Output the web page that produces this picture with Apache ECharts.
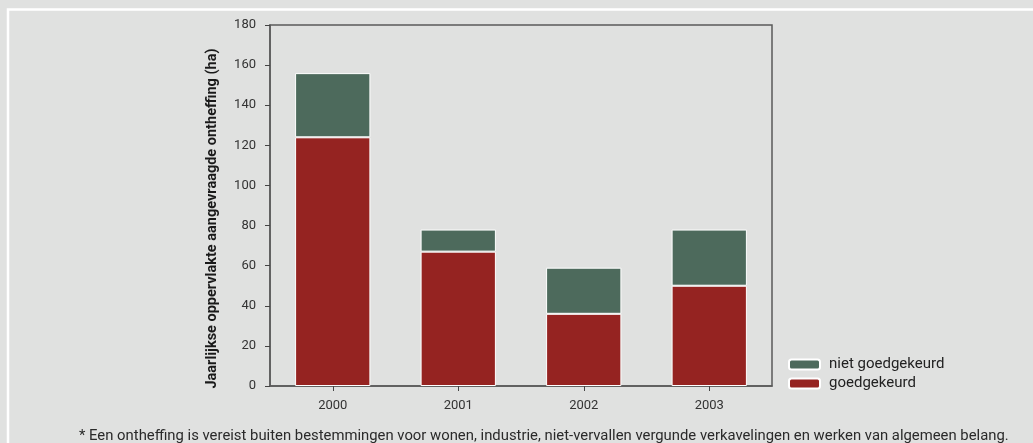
<!DOCTYPE html>
<html>
<head>
<meta charset="utf-8">
<style>
html,body{margin:0;padding:0;background:#e0e1e0;}
#chart{width:1033px;height:443px;}
</style>
<script src="https://cdn.jsdelivr.net/npm/echarts@6/dist/echarts.min.js"></script>
</head>
<body>
<div id="chart"></div>
<script>
var categories = ['2000', '2001', '2002', '2003'];
var goedgekeurd = [124, 67, 36, 50];
var nietGoedgekeurd = [32, 11, 23, 28];
var yTicks = { min: 0, max: 180, interval: 20 };
var yAxisName = 'Jaarlijkse oppervlakte aangevraagde ontheffing (ha)';
var footnote = '* Een ontheffing is vereist buiten bestemmingen voor wonen, industrie, niet-vervallen vergunde verkavelingen en werken van algemeen belang.';

var chart = echarts.init(document.getElementById('chart'), null, {renderer: 'canvas'});
var font = 'Roboto, "Liberation Sans", sans-serif';
chart.setOption({
  backgroundColor: '#e0e1e0',
  animation: false,
  textStyle: { fontFamily: font },
  graphic: [
    { type: 'rect', shape: { x: 8, y: 9.5, width: 1200, height: 600 },
      style: { fill: 'none', stroke: '#ffffff', lineWidth: 2.5 }, silent: true },
    { type: 'text', left: 79, top: 429,
      style: { text: footnote, font: '14.85px ' + font, fill: '#2a2a2a' } }
  ],
  grid: {
    left: 270, right: 261, top: 25, bottom: 57,
    show: true, borderColor: '#5a5a5a', borderWidth: 1.5, backgroundColor: 'transparent'
  },
  legend: {
    orient: 'vertical', left: 783, top: 352,
    itemWidth: 31, itemHeight: 10, itemGap: 4,
    data: ['niet goedgekeurd', 'goedgekeurd'],
    textStyle: { fontSize: 15, color: '#222', fontFamily: font, padding: [0, 0, 0, 4] },
    selectedMode: false
  },
  xAxis: {
    type: 'category', data: categories,
    axisLine: { lineStyle: { color: '#5a5a5a', width: 1.5 } },
    axisTick: { show: true, alignWithLabel: true, length: 5, lineStyle: { color: '#444' } },
    axisLabel: { color: '#333', fontSize: 13, margin: 13 }
  },
  yAxis: {
    type: 'value', min: yTicks.min, max: yTicks.max, interval: yTicks.interval,
    name: yAxisName, nameLocation: 'middle', nameGap: 50,
    nameTextStyle: { fontWeight: 'bold', fontSize: 14.5, color: '#1a1a1a', padding: [0, 26, 0, 0] },
    axisLine: { show: true, lineStyle: { color: '#5a5a5a', width: 1.5 } },
    axisTick: { show: true, length: 5, lineStyle: { color: '#444' } },
    axisLabel: { color: '#333', fontSize: 13, margin: 14 },
    splitLine: { show: false }
  },
  series: [
    { name: 'goedgekeurd', type: 'bar', stack: 'a', data: goedgekeurd, barCategoryGap: '40%',
      itemStyle: { color: '#952321', borderColor: '#ffffff', borderWidth: 1 } },
    { name: 'niet goedgekeurd', type: 'bar', stack: 'a', data: nietGoedgekeurd, barCategoryGap: '40%',
      itemStyle: { color: '#4d6a5c', borderColor: '#ffffff', borderWidth: 1 } }
  ]
});
</script>
</body>
</html>
